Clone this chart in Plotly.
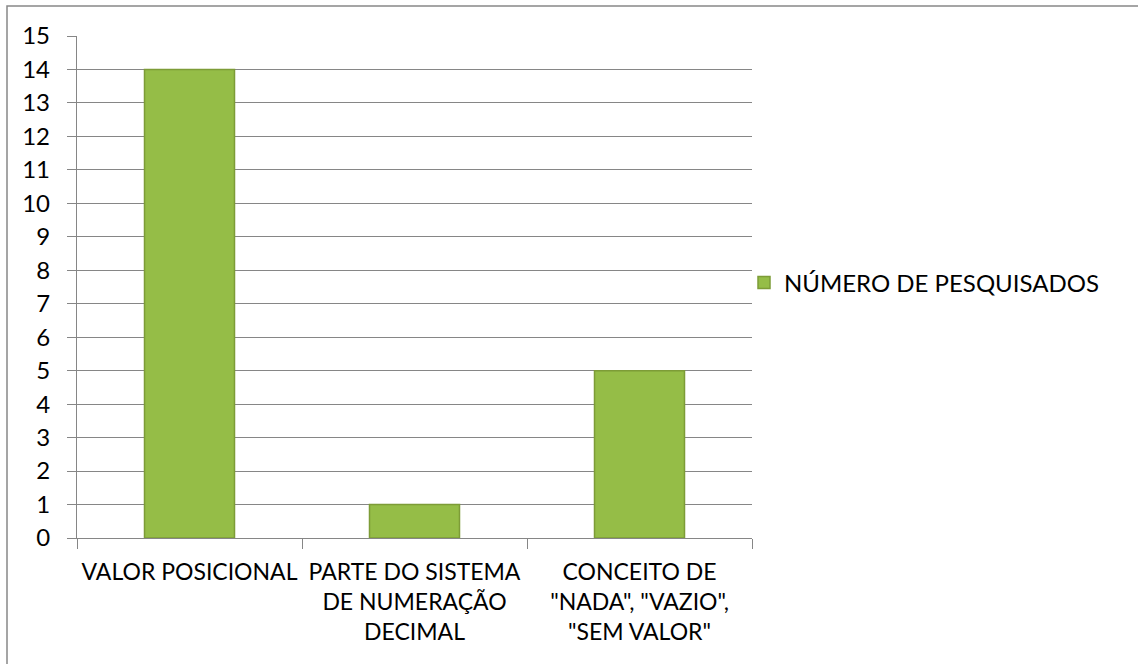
import plotly.graph_objects as go

categories = [
    "VALOR POSICIONAL",
    "PARTE DO SISTEMA<br>DE NUMERAÇÃO<br>DECIMAL",
    "CONCEITO DE<br>\"NADA\", \"VAZIO\",<br>\"SEM VALOR\"",
]
values = [14, 1, 5]
series_name = "NÚMERO DE PESQUISADOS"
y_ticks = list(range(0, 16))

W, H = 1138, 664
L, R, T, B = 77, 752, 36, 538

fig = go.Figure()
fig.add_trace(go.Bar(
    x=categories, y=values, name=series_name,
    marker=dict(color="#95bd47", line=dict(color="#7d9c37", width=1.5)),
    showlegend=True,
))

pw = R - L
ph = B - T
fig.update_layout(
    width=W, height=H,
    margin=dict(l=L, r=W - R, t=T, b=H - B, pad=0),
    paper_bgcolor="white", plot_bgcolor="white",
    font=dict(family="Lato", size=24, color="black"),
    bargap=0.6,
    showlegend=True,
    legend=dict(x=(744 - L) / pw, y=(B - 283) / ph, xanchor="left", yanchor="middle",
                font=dict(size=24), bgcolor="rgba(0,0,0,0)", itemwidth=30),
    xaxis=dict(type="category", showline=True, linecolor="#868686", linewidth=1.3,
               ticks="outside", tickson="boundaries", ticklen=10, tickcolor="#868686",
               tickwidth=1.3, showgrid=False, tickangle=0, tickfont=dict(size=23),
               ticklabelstandoff=13),
    yaxis=dict(range=[0, 15], tickvals=y_ticks, showline=True, linecolor="#868686",
               linewidth=1.3, ticks="outside", ticklen=9, tickcolor="#868686", tickwidth=1.3,
               showgrid=True, gridcolor="#868686", gridwidth=1.3, zeroline=False,
               tickfont=dict(size=24), ticklabelstandoff=12),
    shapes=[dict(type="rect", xref="paper", yref="paper",
                 x0=(7 - L) / pw, x1=(W + 20 - L) / pw,
                 y0=(B - H - 20) / ph, y1=(B - 6) / ph,
                 line=dict(color="#888888", width=1.5), layer="below")],
)

fig.write_html("out.html", config={"displayModeBar": False},
               post_script="document.body.style.margin='0';document.body.style.overflow='hidden';")
